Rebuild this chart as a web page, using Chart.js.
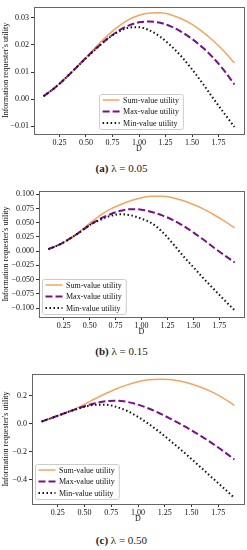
<!DOCTYPE html>
<html>
<head>
<meta charset="utf-8">
<script src="https://cdn.jsdelivr.net/npm/chart.js@4.4.1/dist/chart.umd.min.js"></script>
<style>
body { margin: 0; background: #fff; width: 247px; height: 550px; position: relative; overflow: hidden; font-family: "Liberation Serif", serif; }
canvas { position: absolute; left: 0; }
.cap { position: absolute; left: 0; width: 243px; text-align: center; font-size: 11px; color: #222; line-height: 14px; }
</style>
</head>
<body>
<canvas id="chartA" width="247" height="156" style="top:0px"></canvas>
<div class="cap" style="top:161px"><b>(a)</b> λ = 0.05</div>
<canvas id="chartB" width="247" height="159" style="top:180px"></canvas>
<div class="cap" style="top:344px"><b>(b)</b> λ = 0.15</div>
<canvas id="chartC" width="247" height="166" style="top:360px"></canvas>
<div class="cap" style="top:533px"><b>(c)</b> λ = 0.50</div>
<script>
// D values on the x axis
var dValues = [0.1, 0.2, 0.3, 0.4, 0.5, 0.6, 0.7, 0.8, 0.9, 1.0, 1.1, 1.2, 1.3, 1.4, 1.5, 1.6, 1.7, 1.8, 1.9];
var xTicks = [0.25, 0.5, 0.75, 1.0, 1.25, 1.5, 1.75];
var seriesNames = ['Sum-value utility', 'Max-value utility', 'Min-value utility'];

// (a) lambda = 0.05
var sumA = [0.0011, 0.0040, 0.0075, 0.0113, 0.0153, 0.0195, 0.0233, 0.0266, 0.0292, 0.0309, 0.0317, 0.0318, 0.0311, 0.0296, 0.0275, 0.0248, 0.0215, 0.0177, 0.0133];
var maxA = [0.0011, 0.0040, 0.0075, 0.0113, 0.0152, 0.0189, 0.0222, 0.0250, 0.0271, 0.0283, 0.0286, 0.0281, 0.0268, 0.0248, 0.0222, 0.0190, 0.0152, 0.0107, 0.0054];
var minA = [0.0011, 0.0040, 0.0075, 0.0113, 0.0151, 0.0187, 0.0221, 0.0247, 0.0263, 0.0265, 0.0253, 0.0230, 0.0197, 0.0157, 0.0110, 0.0058, 0.0003, -0.0050, -0.0102];
var yTicksA = [-0.01, 0.0, 0.01, 0.02, 0.03];

// (b) lambda = 0.15
var sumB = [0.0035, 0.011, 0.021, 0.034, 0.049, 0.063, 0.074, 0.082, 0.089, 0.094, 0.0965, 0.0965, 0.094, 0.089, 0.082, 0.074, 0.064, 0.053, 0.041];
var maxB = [0.0035, 0.011, 0.021, 0.033, 0.046, 0.057, 0.065, 0.071, 0.0738, 0.073, 0.069, 0.063, 0.055, 0.045, 0.033, 0.020, 0.006, -0.007, -0.020];
var minB = [0.0035, 0.011, 0.021, 0.033, 0.046, 0.055, 0.062, 0.065, 0.063, 0.057, 0.049, 0.034, 0.014, -0.008, -0.028, -0.048, -0.067, -0.086, -0.104];
var yTicksB = [-0.1, -0.075, -0.05, -0.025, 0.0, 0.025, 0.05, 0.075, 0.1];

// (c) lambda = 0.50
var sumC = [0.017, 0.044, 0.072, 0.104, 0.140, 0.180, 0.217, 0.251, 0.279, 0.301, 0.315, 0.320, 0.317, 0.305, 0.286, 0.259, 0.225, 0.183, 0.133];
var maxC = [0.017, 0.044, 0.072, 0.100, 0.126, 0.148, 0.162, 0.165, 0.157, 0.138, 0.110, 0.076, 0.038, -0.003, -0.046, -0.093, -0.143, -0.197, -0.255];
var minC = [0.017, 0.044, 0.072, 0.099, 0.122, 0.136, 0.137, 0.121, 0.092, 0.050, -0.001, -0.058, -0.120, -0.185, -0.252, -0.321, -0.391, -0.460, -0.530];
var yTicksC = [-0.4, -0.2, 0.0, 0.2];

Chart.defaults.font.family = "'Liberation Serif', serif";
Chart.defaults.font.size = 8;
Chart.defaults.color = '#111';

var lineColors = ['#f4a460', '#7a0f8a', '#111111'];
var lineDashes = [[], [7, 3], [1.5, 2.5]];

function fmt(v, digits) {
    return v.toFixed(digits).replace('-', '\u2212');
}

// box around the plot area plus a matplotlib style legend inside it
var framePlugin = {
    id: 'frame',
    afterDraw: function (chart, args, opts) {
        var ctx = chart.ctx, a = chart.chartArea;
        ctx.save();
        ctx.strokeStyle = '#666';
        ctx.lineWidth = 1;
        ctx.strokeRect(Math.round(a.left) + 0.5, Math.round(a.top) + 0.5, Math.round(a.right - a.left), Math.round(a.bottom - a.top));

        ctx.font = "8px 'Liberation Serif', serif";
        var tw = 0;
        seriesNames.forEach(function (n) { tw = Math.max(tw, ctx.measureText(n).width); });
        var bw = 24 + tw + 4, bh = 35;
        var bx = opts.loc === 'center' ? (a.left + a.right) / 2 - bw / 2 + 2 : a.left + 3;
        var by = a.bottom - opts.pad - bh;
        ctx.fillStyle = 'rgba(255,255,255,0.85)';
        ctx.strokeStyle = '#ccc';
        ctx.beginPath();
        ctx.roundRect(bx + 0.5, by + 0.5, bw, bh, 2);
        ctx.fill();
        ctx.stroke();
        for (var i = 0; i < 3; i++) {
            var ry = by + 6 + i * 11.5;
            ctx.strokeStyle = lineColors[i];
            ctx.lineWidth = i === 0 ? 1.5 : 2;
            ctx.setLineDash(lineDashes[i]);
            ctx.beginPath();
            ctx.moveTo(bx + 3.5, ry);
            ctx.lineTo(bx + 20.5, ry);
            ctx.stroke();
            ctx.setLineDash([]);
            ctx.fillStyle = '#111';
            ctx.textBaseline = 'middle';
            ctx.fillText(seriesNames[i], bx + 24, ry + 0.5);
        }
        ctx.restore();
    }
};

function makePanel(id, sums, maxs, mins, yMin, yMax, yTicks, yDigits, pad, axisWidth, legendLoc, legendPad) {
    var ctx = document.getElementById(id).getContext('2d');
    var vals = [sums, maxs, mins];
    var sets = vals.map(function (v, i) {
        return {
            label: seriesNames[i],
            data: dValues.map(function (d, j) { return { x: d, y: v[j] }; }),
            borderColor: lineColors[i],
            borderWidth: i === 0 ? 1.5 : 2,
            borderDash: lineDashes[i],
            pointRadius: 0,
            fill: false,
            cubicInterpolationMode: 'monotone',
            order: 2 - i
        };
    });
    return new Chart(ctx, {
        type: 'line',
        data: { datasets: sets },
        plugins: [framePlugin],
        options: {
            responsive: false,
            animation: false,
            devicePixelRatio: 1,
            layout: { padding: pad },
            plugins: {
                legend: { display: false },
                tooltip: { enabled: false },
                frame: { loc: legendLoc, pad: legendPad }
            },
            scales: {
                x: {
                    type: 'linear',
                    min: 0.01,
                    max: 1.99,
                    afterBuildTicks: function (s) { s.ticks = xTicks.map(function (v) { return { value: v }; }); },
                    afterFit: function (s) { s.height = 22; },
                    ticks: { padding: 1, maxRotation: 0, autoSkip: false, callback: function (v) { return fmt(v, 2); } },
                    grid: { drawOnChartArea: false, tickLength: 3, color: '#333' },
                    border: { display: false },
                    title: { display: true, text: 'D', padding: { top: 0, bottom: 2 } }
                },
                y: {
                    min: yMin,
                    max: yMax,
                    afterBuildTicks: function (s) { s.ticks = yTicks.map(function (v) { return { value: v }; }); },
                    afterFit: function (s) { s.width = axisWidth; },
                    ticks: { padding: 2, autoSkip: false, callback: function (v) { return fmt(v, yDigits); } },
                    grid: { drawOnChartArea: false, tickLength: 3, color: '#333' },
                    border: { display: false },
                    title: { display: true, text: "Information requester's utility", padding: { top: 1, bottom: 0 } }
                }
            }
        }
    });
}

makePanel('chartA', sumA, maxA, minA, -0.0128, 0.034, yTicksA, 2, { top: 4, right: 3, left: 0, bottom: 0 }, 34, 'center', 5);
makePanel('chartB', sumB, maxB, minB, -0.1158, 0.1058, yTicksB, 3, { top: 11, right: 3, left: 0, bottom: 0 }, 39, 'left', 3);
makePanel('chartC', sumC, maxC, minC, -0.574, 0.357, yTicksC, 1, { top: 14, right: 3, left: 0, bottom: 0 }, 32, 'left', 5);
</script>
</body>
</html>
